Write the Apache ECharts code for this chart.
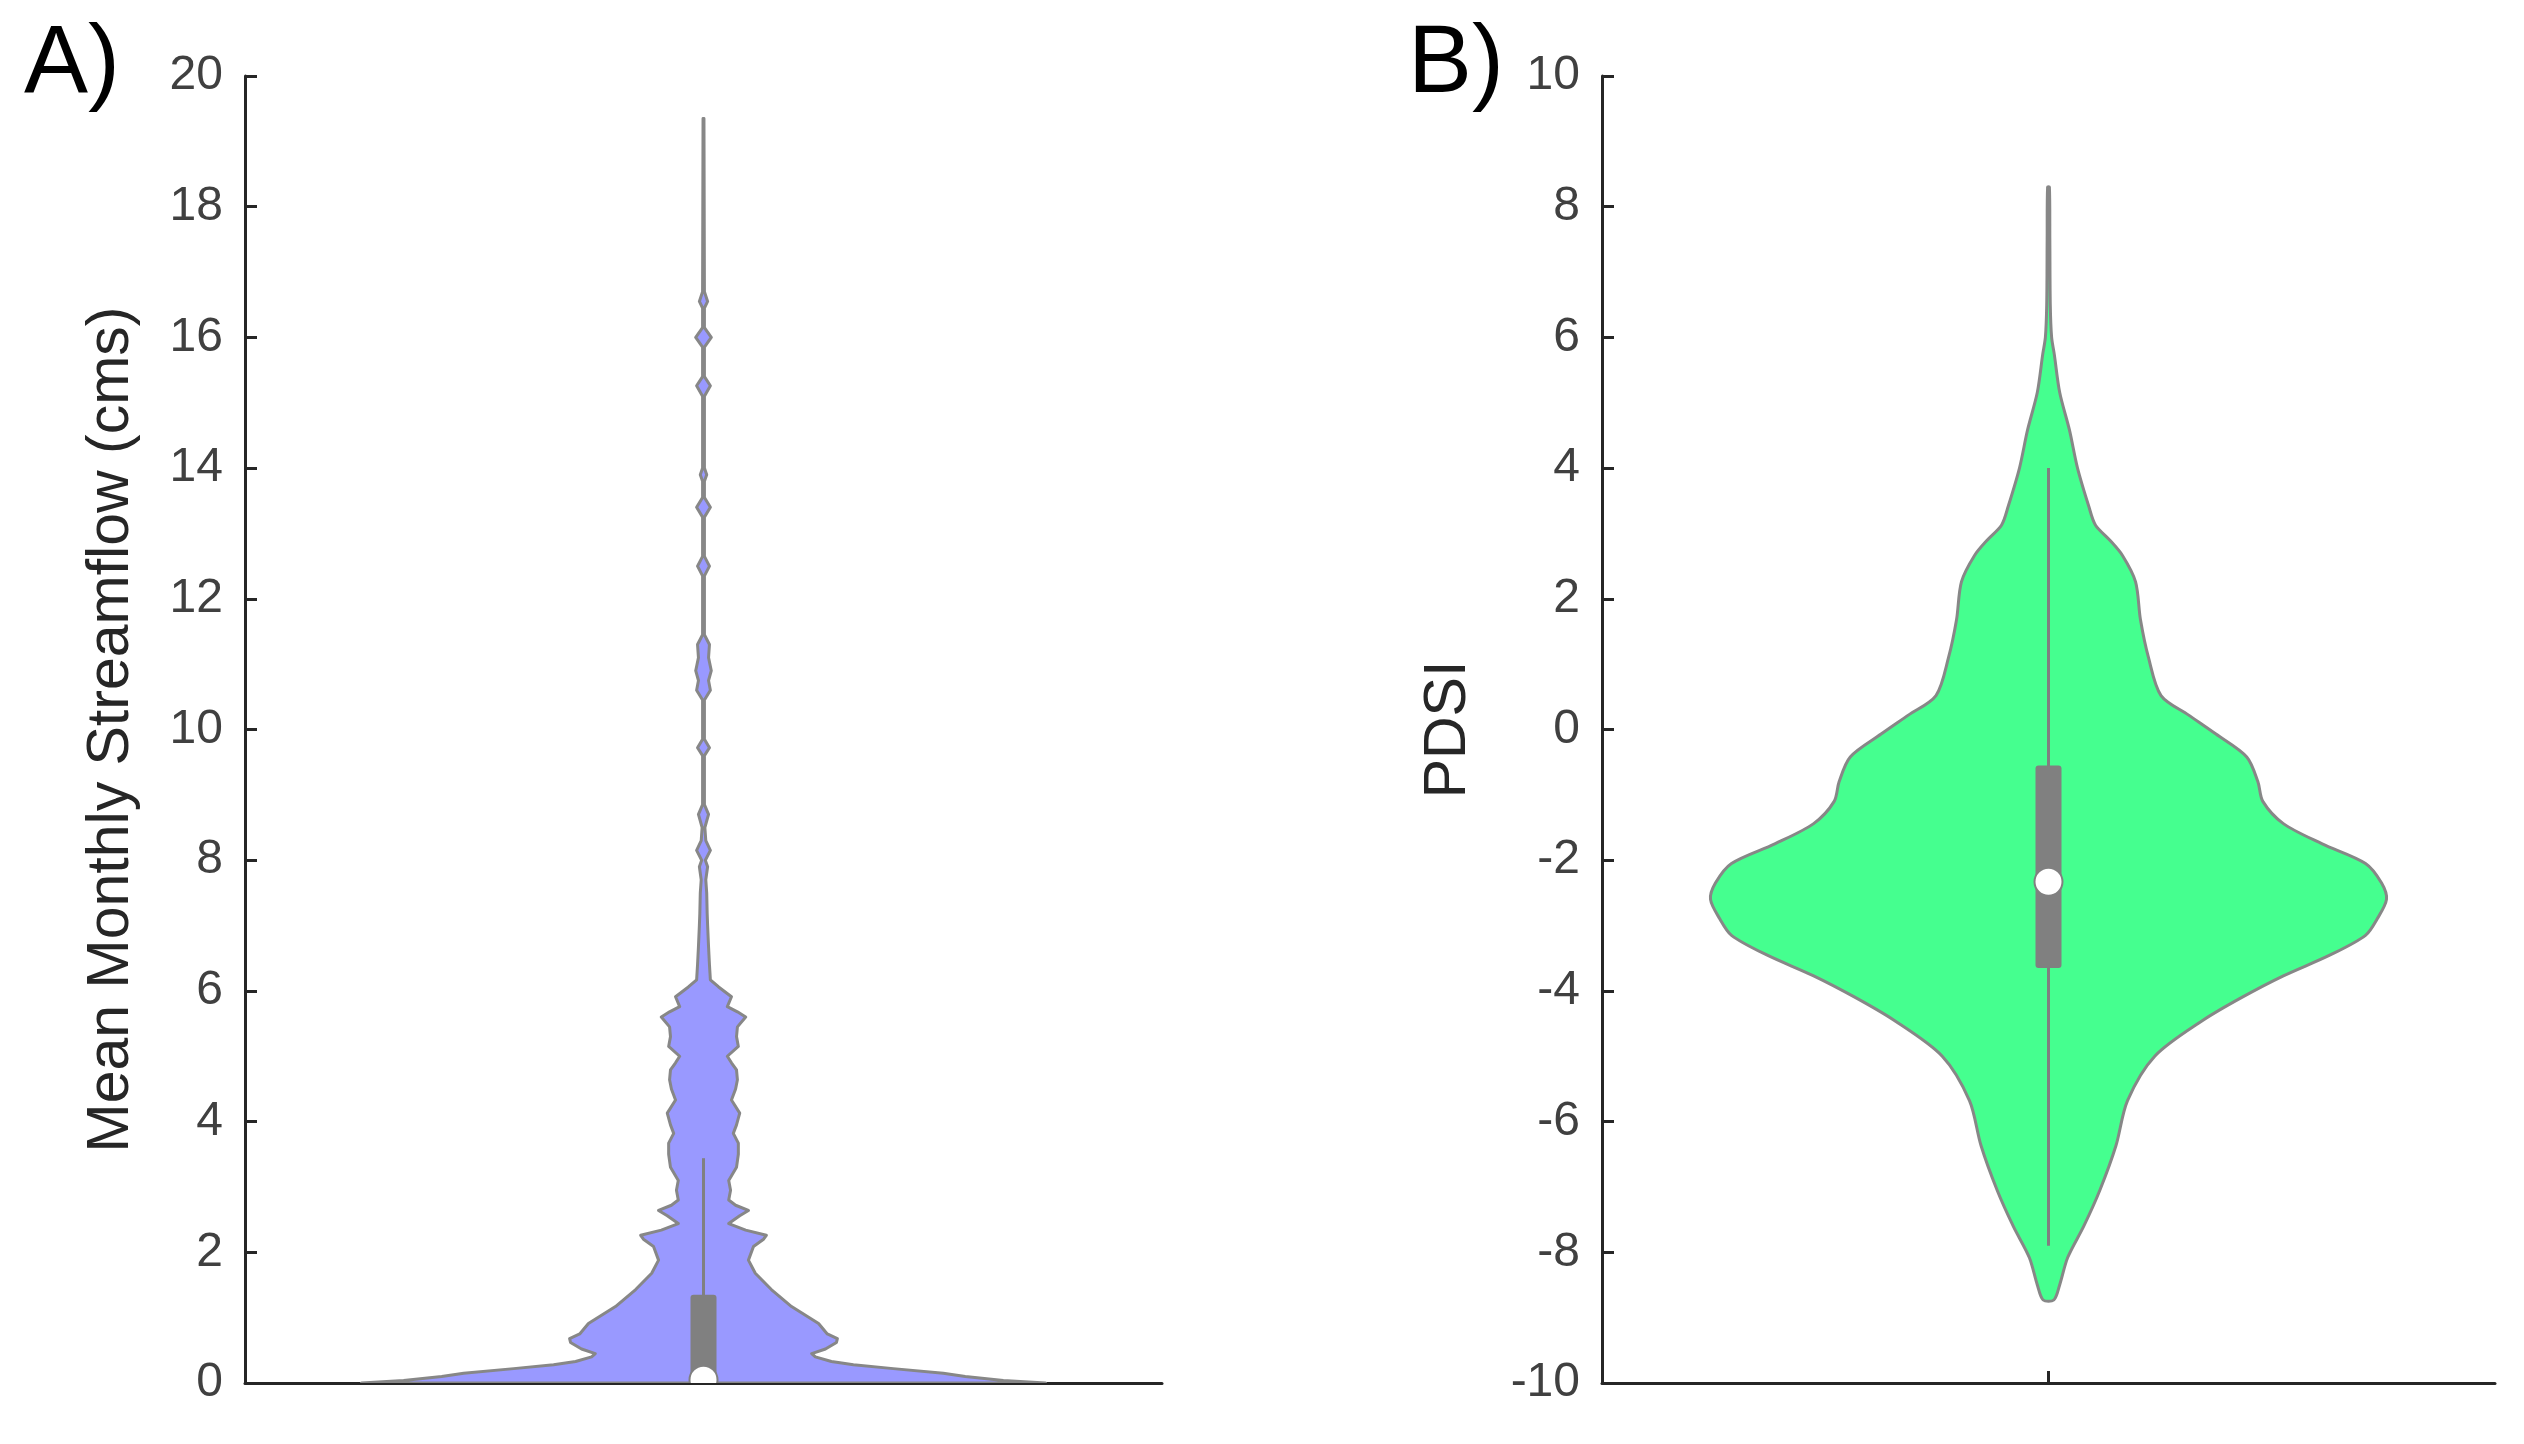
<!DOCTYPE html>
<html>
<head>
<meta charset="utf-8">
<script src="https://cdn.jsdelivr.net/npm/echarts@6/dist/echarts.min.js"></script>
<style>
html, body { margin: 0; padding: 0; background: #fff; }
#main { width: 2524px; height: 1444px; }
</style>
</head>
<body>
<div id="main"></div>
<script>
// A) streamflow violin: heights (cms) and half-width of the density outline
const flowY = [0, 0.04, 0.1, 0.15, 0.22, 0.28, 0.33, 0.4, 0.45, 0.52, 0.62, 0.68, 0.75, 0.91,
  1.17, 1.43, 1.68, 1.88, 2.09, 2.2, 2.26, 2.34, 2.44, 2.56, 2.64, 2.72, 2.8, 2.95, 3.1, 3.3,
  3.5, 3.67, 3.82, 3.95, 4.13, 4.33, 4.5, 4.64, 4.79, 4.9, 5.0, 5.15, 5.3, 5.45, 5.6, 5.68,
  5.76, 5.91, 6.06, 6.17, 6.4, 6.68, 7.0, 7.19, 7.5, 7.7, 7.9, 8.0, 8.15, 8.3, 8.5, 8.7, 8.85,
  9.6, 9.72, 9.85, 10.45, 10.6, 10.75, 10.9, 11.1, 11.3, 11.45, 12.35, 12.5, 12.65, 13.25,
  13.4, 13.55, 13.8, 13.9, 14.0, 15.1, 15.26, 15.4, 15.85, 16.0, 16.15, 16.45, 16.55, 16.7, 19.35];
const flowW = [0.746, 0.654, 0.571, 0.523, 0.414, 0.327, 0.279, 0.244, 0.236, 0.266, 0.29, 0.292, 0.27, 0.251,
  0.192, 0.148, 0.113, 0.098, 0.109, 0.131, 0.137, 0.092, 0.055, 0.079, 0.098, 0.07, 0.055, 0.059, 0.055, 0.072,
  0.076, 0.076, 0.065, 0.072, 0.079, 0.061, 0.07, 0.074, 0.072, 0.061, 0.052, 0.076, 0.072, 0.074, 0.092, 0.074,
  0.052, 0.061, 0.033, 0.015, 0.013, 0.011, 0.009, 0.008, 0.007, 0.005, 0.009, 0.004, 0.015, 0.005, 0.003, 0.011, 0.002,
  0.002, 0.013, 0.002, 0.002, 0.015, 0.011, 0.017, 0.011, 0.013, 0.002, 0.002, 0.013, 0.002, 0.002,
  0.015, 0.002, 0.002, 0.007, 0.002, 0.002, 0.015, 0.002, 0.002, 0.017, 0.002, 0.002, 0.009, 0.002, 0.001];
// lower whisker, q1, median, q3, upper whisker
const flowStats = [0, 0, 0.05, 1.35, 3.44];

// B) PDSI violin
const pdsiY = [-8.73, -8.5, -8.08, -7.6, -7.05, -6.37, -5.68, -5.0, -4.45, -4.1, -3.77, -3.45, -3.15,
  -2.9, -2.6, -2.35, -2.05, -1.75, -1.44, -1.1, -0.8, -0.42, -0.07, 0.22, 0.52, 1.1, 1.68, 2.26,
  2.66, 2.9, 3.13, 3.42, 4.0, 4.58, 5.16, 5.74, 6.0, 6.5, 7.5, 8.3];
const pdsiW = [0.012, 0.025, 0.043, 0.079, 0.115, 0.151, 0.177, 0.238, 0.346, 0.433, 0.526, 0.631, 0.71,
  0.736, 0.757, 0.746, 0.71, 0.613, 0.526, 0.48, 0.469, 0.444, 0.375, 0.314, 0.252, 0.224, 0.206, 0.195,
  0.166, 0.137, 0.105, 0.09, 0.065, 0.047, 0.025, 0.013, 0.007, 0.004, 0.003, 0.002];
const pdsiStats = [-7.9, -3.65, -2.33, -0.55, 4.0];

const yTicksA = [0, 20, 2];
const yTicksB = [-10, 10, 2];

const grey = '#808080';
const axisColor = '#262626';
const font = 'Liberation Sans';

function violin(ys, ws, stats, fill, smooth) {
  return function (params, api) {
    const right = [], left = [];
    for (let i = 0; i < ys.length; i++) {
      right.push(api.coord([ws[i], ys[i]]));
      left.push(api.coord([-ws[i], ys[i]]));
    }
    const outline = right.concat(left.reverse());
    const lo = api.coord([0, stats[0]]);
    const q1 = api.coord([0, stats[1]]);
    const med = api.coord([0, stats[2]]);
    const q3 = api.coord([0, stats[3]]);
    const hi = api.coord([0, stats[4]]);
    return {
      type: 'group',
      children: [
        { type: 'polygon', shape: { points: outline, smooth: smooth },
          style: { fill: fill, stroke: '#878787', lineWidth: 3, lineJoin: 'round' } },
        { type: 'line', shape: { x1: lo[0], y1: lo[1], x2: hi[0], y2: hi[1] }, style: { stroke: grey, lineWidth: 3 } },
        { type: 'rect', shape: { x: q3[0] - 13, y: q3[1], width: 26, height: q1[1] - q3[1], r: 3 }, style: { fill: grey } },
        { type: 'circle', shape: { cx: med[0], cy: med[1], r: 14 }, style: { fill: '#fff', stroke: grey, lineWidth: 2 } }
      ]
    };
  };
}

function xAxisOf(gridIndex) {
  return {
    gridIndex: gridIndex, type: 'value', min: -1, max: 1,
    axisLine: { onZero: false, lineStyle: { color: axisColor, width: 3 } },
    axisTick: { inside: true, length: 12, customValues: [0], lineStyle: { color: axisColor, width: 3 } },
    axisLabel: { show: false },
    splitLine: { show: false }
  };
}

function yAxisOf(gridIndex, ticks, name, gap) {
  return {
    gridIndex: gridIndex, type: 'value', min: ticks[0], max: ticks[1], interval: ticks[2],
    name: name, nameLocation: 'middle', nameGap: gap,
    nameTextStyle: { fontSize: 59, color: axisColor, fontFamily: font },
    axisLine: { show: true, onZero: false, lineStyle: { color: axisColor, width: 3 } },
    axisTick: { show: true, inside: true, length: 12, lineStyle: { color: axisColor, width: 3 } },
    axisLabel: { fontSize: 48, color: '#404040', fontFamily: font, margin: 22 },
    splitLine: { show: false }
  };
}

const chart = echarts.init(document.getElementById('main'));
chart.setOption({
  animation: false,
  backgroundColor: '#fff',
  grid: [
    { left: 245, right: 1362, top: 76, bottom: 61 },
    { left: 1602, right: 29, top: 76, bottom: 61 }
  ],
  xAxis: [xAxisOf(0), xAxisOf(1)],
  yAxis: [
    yAxisOf(0, yTicksA, 'Mean Monthly Streamflow (cms)', 104),
    yAxisOf(1, yTicksB, 'PDSI', 124)
  ],
  graphic: [
    { type: 'text', left: 24, top: 18, style: { text: 'A)', fontSize: 96, fill: '#000', fontFamily: font } },
    { type: 'text', left: 1408, top: 18, style: { text: 'B)', fontSize: 96, fill: '#000', fontFamily: font } }
  ],
  series: [
    { type: 'custom', xAxisIndex: 0, yAxisIndex: 0, data: [[0, 0]], clip: true, silent: true,
      renderItem: violin(flowY, flowW, flowStats, '#9999ff', 0) },
    { type: 'custom', xAxisIndex: 1, yAxisIndex: 1, data: [[0, 0]], clip: true, silent: true,
      renderItem: violin(pdsiY, pdsiW, pdsiStats, '#45ff8f', 0.3) }
  ]
});
</script>
</body>
</html>
